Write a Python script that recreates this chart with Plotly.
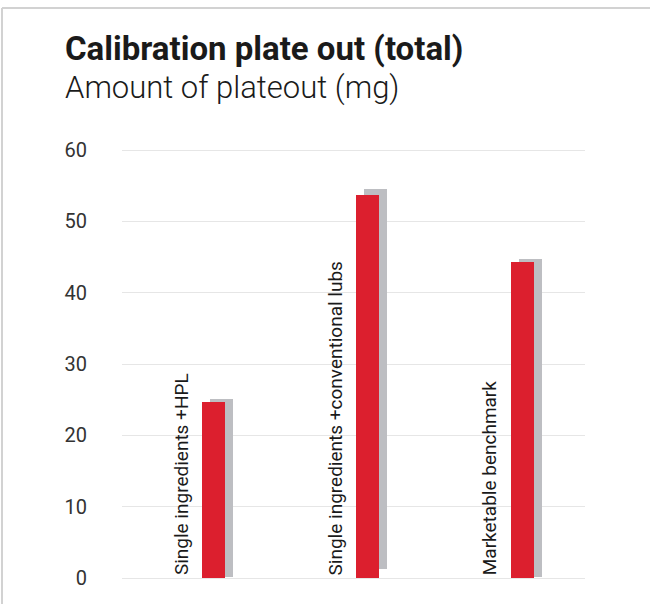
import plotly.graph_objects as go

# Data
categories = ["Single ingredients +HPL", "Single ingredients +conventional lubs", "Marketable benchmark"]
values = [24.7, 53.7, 44.3]
shadow_top = [25.1, 54.6, 44.7]
shadow_base = [0.15, 1.2, 0.15]
y_ticks = [0, 10, 20, 30, 40, 50, 60]

RED = "#dc1f2e"
GREY = "#bdbec2"
TXT = "#1a1a1a"

xs = list(range(len(categories)))

# plot area in pixels (used to place paper-space items)
L, R, T, B = 122, 65, 148, 26
W, H = 650, 604
pw, ph = W - L - R, H - T - B

def px_x(p):
    return (p - L) / pw

def px_y(p):
    return (H - B - p) / ph

fig = go.Figure()

# grey shadow behind each bar
fig.add_trace(go.Bar(
    x=xs, y=[t - b for t, b in zip(shadow_top, shadow_base)], base=shadow_base,
    width=0.149, offset=0.071, marker=dict(color=GREY, line_width=0),
    hoverinfo="skip", showlegend=False
))

# red bars
fig.add_trace(go.Bar(
    x=xs, y=values, width=0.149, offset=0.019,
    marker=dict(color=RED, line_width=0),
    customdata=categories,
    hovertemplate="%{customdata}: %{y}<extra></extra>",
    showlegend=False
))

# vertical labels next to bars
for x, c in zip(xs, categories):
    fig.add_annotation(
        x=x - 0.117, y=0, xref="x", yref="y", text=c, textangle=-90,
        showarrow=False, xanchor="center", yanchor="bottom", yshift=1,
        font=dict(family="Roboto, sans-serif", size=19, color=TXT)
    )

# title + subtitle
fig.add_annotation(
    x=px_x(63), y=px_y(27), xref="paper", yref="paper", xanchor="left", yanchor="top",
    text="Calibration plate out (total)", showarrow=False,
    font=dict(family="Roboto, sans-serif", size=33, weight=700, color="#1a1a1a")
)
fig.add_annotation(
    x=px_x(63), y=px_y(67), xref="paper", yref="paper", xanchor="left", yanchor="top",
    text="Amount of plateout (mg)", showarrow=False,
    font=dict(family="Roboto, sans-serif", size=31, weight=300, color="#1a1a1a")
)

# panel frame (top and left edges)
fig.add_shape(type="line", xref="paper", yref="paper",
              x0=px_x(2), x1=px_x(660), y0=px_y(8), y1=px_y(8),
              line=dict(color="#d2d2d2", width=2))
fig.add_shape(type="line", xref="paper", yref="paper",
              x0=px_x(2), x1=px_x(2), y0=px_y(8), y1=px_y(620),
              line=dict(color="#d2d2d2", width=2))

fig.update_layout(
    width=W, height=H,
    margin=dict(l=L, r=R, t=T, b=B),
    paper_bgcolor="white", plot_bgcolor="white",
    barmode="overlay", bargap=0,
    xaxis=dict(range=[-0.5, 2.5], showticklabels=False, showgrid=False,
               zeroline=False, showline=False, ticks=""),
    yaxis=dict(range=[0, 60.3], tickvals=y_ticks, showgrid=True, gridcolor="#e6e6e6",
               gridwidth=1, zeroline=True, zerolinecolor="#e6e6e6", zerolinewidth=1,
               showline=False, ticks="", ticklabelstandoff=34,
               tickfont=dict(family="Roboto, sans-serif", size=20, color="#333333")),
    font=dict(family="Roboto, sans-serif"),
)

# drop the default page margin so the figure sits at the window origin
fig.write_html("out.html", config={"displayModeBar": False},
               post_script="document.body.style.margin='0';")
